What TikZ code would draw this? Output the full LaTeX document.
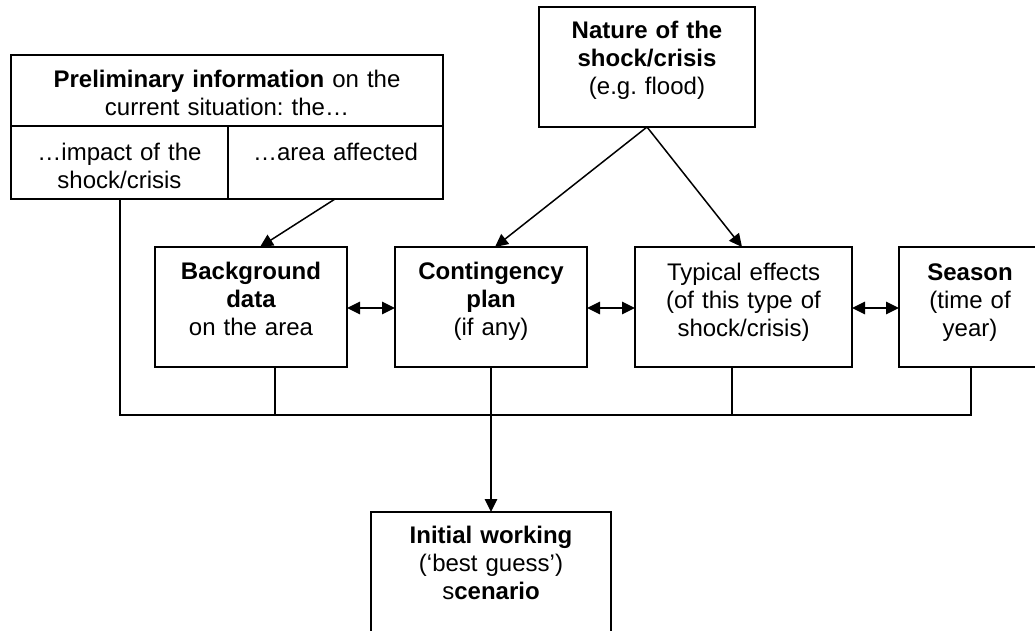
\documentclass[tikz,border=0pt]{standalone}
\usepackage{fontspec}
\setmainfont{Liberation Sans}
\frenchspacing
\usetikzlibrary{arrows.meta}
\begin{document}
\begin{tikzpicture}[x=1pt,y=-1pt,
  box/.style={draw, line width=1.6pt, inner sep=0pt, outer sep=0pt, anchor=north west},
  txt/.style={inner sep=0pt, align=center, anchor=base,
    font=\fontsize{24}{28.2}\selectfont},
  link/.style={line width=1.5pt},
  arr/.style={line width=1.5pt, -{Triangle[length=13pt,width=12.5pt]}},
  dbl/.style={line width=1.5pt, {Triangle[length=13pt,width=12.5pt]}-{Triangle[length=13pt,width=12.5pt]}}]
\clip (0,0) rectangle (1035,630);
\fill[white] (0,0) rectangle (1035,630);

% preliminary information block: header row and two cells
\node[box, minimum width=432pt, minimum height=71pt] (prelim) at (11,55) {};
\node[box, minimum width=217pt, minimum height=73pt] (impact) at (11,126) {};
\node[box, minimum width=215pt, minimum height=73pt] (area) at (228,126) {};
\node[txt, text width=426pt] (prelimT) at (227,87) {\textbf{Preliminary information} on the\\current situation: the…};
\node[txt, text width=211pt] (impactT) at (119.5,160) {…impact of the\\shock/crisis};
\node[txt, text width=209pt] (areaT) at (335.5,160) {…area affected};

% nature of the shock
\node[box, minimum width=216pt, minimum height=120pt] (nature) at (539,7) {};
\node[txt, text width=210pt] (natureT) at (647,38) {\textbf{Nature of the}\\\textbf{shock/crisis}\\(e.g. flood)};

% middle row
\node[box, minimum width=192pt, minimum height=120pt] (bg) at (155,247) {};
\node[txt, text width=186pt] (bgT) at (251,279) {\textbf{Background}\\\textbf{data}\\on the area};
\node[box, minimum width=192pt, minimum height=120pt] (plan) at (395,247) {};
\node[txt, text width=186pt] (planT) at (491,279) {\textbf{Contingency}\\\textbf{plan}\\(if any)};
\node[box, minimum width=217pt, minimum height=120pt] (effects) at (635,247) {};
\node[txt, text width=211pt] (effectsT) at (743.5,280) {Typical effects\\(of this type of\\shock/crisis)};
\node[box, minimum width=142pt, minimum height=120pt] (season) at (899,247) {};
\node[txt, text width=136pt] (seasonT) at (970,280) {\textbf{Season}\\(time of\\year)};

% outcome
\node[box, minimum width=240pt, minimum height=200pt] (initial) at (371,512) {};
\node[txt, text width=234pt] (initialT) at (491,543) {\textbf{Initial working}\\(‘best guess’)\\s\textbf{cenario}};

% arrows into the middle row
\coordinate (natureOut) at (647,127);
\draw[arr] (natureOut) -- (plan.north -| 495,0);
\draw[arr] (natureOut) -- (effects.north -| 742,0);
\coordinate (areaOut) at (335,199);
\draw[arr] (areaOut) -- (bg.north -| 260,0);

% two-way links between neighbours
\draw[dbl] (bg.east |- 0,308) -- (plan.west |- 0,308);
\draw[dbl] (plan.east |- 0,308) -- (effects.west |- 0,308);
\draw[dbl] (effects.east |- 0,308) -- (season.west |- 0,308);

% collecting bus
\coordinate (busL) at (120,415);
\coordinate (busR) at (971,415);
\draw[link] (impact.south -| busL) -- (busL) -- (busR) -- (season.south -| busR);
\draw[link] (bg.south -| 275,0) -- (275,415);
\draw[link] (effects.south -| 732,0) -- (732,415);
\draw[arr] (plan.south) -- (initial.north);
\end{tikzpicture}
\end{document}
